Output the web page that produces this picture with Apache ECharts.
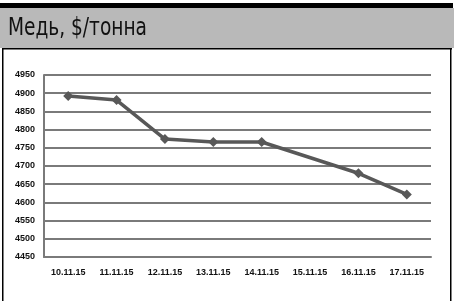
<!DOCTYPE html>
<html>
<head>
<meta charset="utf-8">
<script src="https://cdn.jsdelivr.net/npm/echarts@6/dist/echarts.min.js"></script>
<style>
html,body{margin:0;padding:0;background:#fff;}
#chart{width:454px;height:301px;}
</style>
</head>
<body>
<div id="chart"></div>
<script>
// данные
var dates = ['10.11.15', '11.11.15', '12.11.15', '13.11.15', '14.11.15', '15.11.15', '16.11.15', '17.11.15'];
var prices = [4892, 4881, 4774, 4766, 4766, '-', 4680, 4622];
var yMin = 4450, yMax = 4950, yStep = 50;

var myChart = echarts.init(document.getElementById('chart'));
myChart.setOption({
    animation: false,
    graphic: [
        { type: 'rect', shape: { x: 0, y: 8, width: 454, height: 40 }, style: { fill: '#b9b9b9' } },
        { type: 'rect', shape: { x: 0, y: 3, width: 453, height: 5 }, style: { fill: '#000' } },
        { type: 'rect', shape: { x: 2, y: 48, width: 450, height: 1.5 }, style: { fill: '#000' } },
        { type: 'rect', shape: { x: 2, y: 48, width: 1.5, height: 253 }, style: { fill: '#000' } },
        { type: 'rect', shape: { x: 450, y: 48, width: 1.5, height: 253 }, style: { fill: '#000' } },
        { type: 'text', x: 8, y: 17, scaleX: 0.86, style: { text: 'Медь, $/тонна', fill: '#111', font: '24px "DejaVu Sans Condensed", "Liberation Sans", sans-serif' } }
    ],
    grid: { left: 44, right: 23, top: 75, bottom: 44 },
    xAxis: {
        type: 'category',
        data: dates,
        boundaryGap: true,
        axisLine: { lineStyle: { color: '#7a7a7a', width: 2 } },
        axisTick: { show: false },
        axisLabel: { color: '#111', fontFamily: 'Liberation Sans', fontWeight: 'bold', fontSize: 9, margin: 11 }
    },
    yAxis: {
        type: 'value',
        min: yMin, max: yMax, interval: yStep,
        axisLine: { show: true, lineStyle: { color: '#7a7a7a', width: 2 } },
        axisTick: { show: false },
        axisLabel: { color: '#111', fontFamily: 'Liberation Sans', fontWeight: 'bold', fontSize: 9, margin: 9, formatter: function (v) { return String(v); } },
        splitLine: { lineStyle: { color: '#7a7a7a', width: 2 } }
    },
    series: [{
        type: 'line',
        data: prices,
        connectNulls: true,
        symbol: 'diamond',
        symbolSize: 10,
        lineStyle: { color: '#585858', width: 3.5 },
        itemStyle: { color: '#585858' }
    }]
});
</script>
</body>
</html>
